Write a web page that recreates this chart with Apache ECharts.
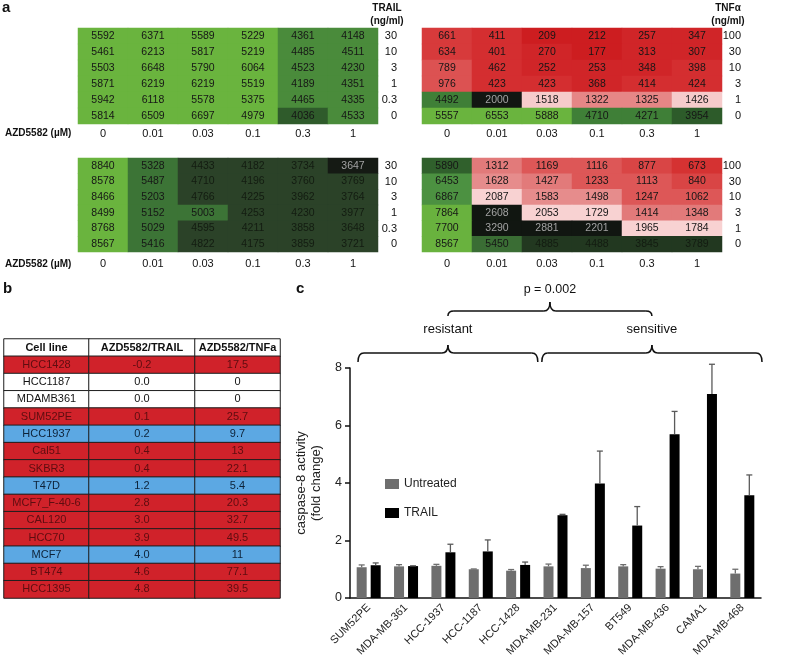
<!DOCTYPE html>
<html><head><meta charset="utf-8">
<script src="https://cdn.jsdelivr.net/npm/echarts@6/dist/echarts.min.js"></script>
<style>html,body{margin:0;padding:0;background:#fff}#c{width:798px;height:671px}</style>
</head><body><div id="c"></div>
<script>
const FONT = '"Liberation Sans", Arial, sans-serif';

// ---------- panel a data ----------
const azdDoses = ['0','0.01','0.03','0.1','0.3','1'];
const trailDoses = ['30','10','3','1','0.3','0'];
const tnfDoses = ['100','30','10','3','1','0'];
const trailExp1 = [
  [5592,6371,5589,5229,4361,4148],
  [5461,6213,5817,5219,4485,4511],
  [5503,6648,5790,6064,4523,4230],
  [5871,6219,6219,5519,4189,4351],
  [5942,6118,5578,5375,4465,4335],
  [5814,6509,6697,4979,4036,4533]
];
const tnfExp1 = [
  [661,411,209,212,257,347],
  [634,401,270,177,313,307],
  [789,462,252,253,348,398],
  [976,423,423,368,414,424],
  [4492,2000,1518,1322,1325,1426],
  [5557,6553,5888,4710,4271,3954]
];
const trailExp2 = [
  [8840,5328,4433,4182,3734,3647],
  [8578,5487,4710,4196,3760,3769],
  [8466,5203,4766,4225,3962,3764],
  [8499,5152,5003,4253,4230,3977],
  [8768,5029,4595,4211,3858,3648],
  [8567,5416,4822,4175,3859,3721]
];
const tnfExp2 = [
  [5890,1312,1169,1116,877,673],
  [6453,1628,1427,1233,1113,840],
  [6867,2087,1583,1498,1247,1062],
  [7864,2608,2053,1729,1414,1348],
  [7700,3290,2881,2201,1965,1784],
  [8567,5450,4885,4488,3845,3789]
];

// ---------- panel b data ----------
const tableHeader = ['Cell line','AZD5582/TRAIL','AZD5582/TNFa'];
const tableLines = ['HCC1428','HCC1187','MDAMB361','SUM52PE','HCC1937','Cal51','SKBR3','T47D','MCF7_F-40-6','CAL120','HCC70','MCF7','BT474','HCC1395'];
const tableTrail = ['-0.2','0.0','0.0','0.1','0.2','0.4','0.4','1.2','2.8','3.0','3.9','4.0','4.6','4.8'];
const tableTnf = ['17.5','0','0','25.7','9.7','13','22.1','5.4','20.3','32.7','49.5','11','77.1','39.5'];
const tableClass = ['r','w','w','r','b','r','r','b','r','r','r','b','r','r'];

// ---------- panel c data ----------
const cellLines = ['SUM52PE','MDA-MB-361','HCC-1937','HCC-1187','HCC-1428','MDA-MB-231','MDA-MB-157','BT549','MDA-MB-436','CAMA1','MDA-MB-468'];
const untreated = [1.07,1.10,1.12,1.00,0.95,1.10,1.04,1.10,1.02,1.00,0.85];
const untreatedErr = [0.08,0.06,0.05,0.01,0.04,0.08,0.10,0.06,0.07,0.10,0.15];
const trail = [1.14,1.11,1.59,1.62,1.15,2.88,3.98,2.52,5.70,7.10,3.57];
const trailErr = [0.08,0.01,0.28,0.40,0.10,0.03,1.13,0.66,0.79,1.03,0.71];

// ---------- styles ----------
const heatPieces = [
  [{lt:4100,color:'#2f5b2b'},{gte:4100,lt:4900,color:'#4a8b3b'},{gte:4900,color:'#6ab43e'}],
  [{lt:240,color:'#cd1d20'},{gte:240,lt:380,color:'#d02528'},{gte:380,lt:500,color:'#d42e30'},{gte:500,lt:700,color:'#d73a3b'},{gte:700,lt:1000,color:'#dc5252'},{gte:1000,lt:1400,color:'#e68686'},{gte:1400,lt:1700,color:'#f6cbcb'},{gte:1700,lt:3000,color:'#121612'},{gte:3000,lt:4000,color:'#2d5b2a'},{gte:4000,lt:5000,color:'#3f7f37'},{gte:5000,color:'#6ab43e'}],
  [{lt:3648,color:'#151a14'},{gte:3648,lt:4900,color:'#2b4228'},{gte:4900,lt:6000,color:'#3c7436'},{gte:6000,color:'#6ab43e'}],
  [{lt:750,color:'#d53232'},{gte:750,lt:1000,color:'#d94545'},{gte:1000,lt:1300,color:'#dd5757'},{gte:1300,lt:1450,color:'#e27a7a'},{gte:1450,lt:1700,color:'#e68c8c'},{gte:1700,lt:2150,color:'#f8d2d2'},{gte:2150,lt:3500,color:'#111611'},{gte:3500,lt:5000,color:'#223820'},{gte:5000,lt:5600,color:'#3a6d34'},{gte:5600,lt:6000,color:'#30602c'},{gte:6000,lt:7000,color:'#4c9141'},{gte:7000,color:'#69b23e'}]
];
const heatGrids = [
  {left:78, top:28, width:300, height:96},
  {left:422, top:28, width:300, height:96},
  {left:78, top:158, width:300, height:94},
  {left:422, top:158, width:300, height:94}
];
const tableGrids = [
  {left:4, top:339, width:85, height:259},
  {left:89, top:339, width:106, height:259},
  {left:195, top:339, width:85, height:259}
];
const barGrid = {left:350, top:368, width:411, height:230};
const classColor = {r:'#d0222a', w:'#ffffff', b:'#5ca8e3', h:'#ffffff'};
const classText = {r:'#5e0d10', w:'#111111', b:'#0d2238', h:'#111111'};

function pieceColor(pieces, v){
  for (const p of pieces){
    if ((p.lt===undefined || v < p.lt) && (p.gte===undefined || v >= p.gte)) return p.color;
  }
  return '#888';
}
function lum(hex){
  const r=parseInt(hex.substr(1,2),16), g=parseInt(hex.substr(3,2),16), b=parseInt(hex.substr(5,2),16);
  return (0.299*r+0.587*g+0.114*b)/255;
}
function labelColor(bg){
  const l = lum(bg);
  if (l < 0.12) return '#a2a2a2';
  if (l < 0.25) return '#131c11';
  return '#161616';
}

const matrices = [trailExp1, tnfExp1, trailExp2, tnfExp2];
const grids = [], xAxes = [], yAxes = [], series = [], visualMaps = [];

matrices.forEach((m, i) => {
  grids.push(heatGrids[i]);
  xAxes.push({gridIndex:i, type:'category', data:azdDoses, axisLine:{show:false}, axisTick:{show:false},
    axisLabel:{fontSize:11, color:'#111', fontFamily:FONT, margin: i<2?4:6}});
  yAxes.push({gridIndex:i, type:'category', data: i%2===0 ? trailDoses : tnfDoses, inverse:true, position:'right',
    axisLine:{show:false}, axisTick:{show:false},
    axisLabel:{fontSize:11, color:'#111', fontFamily:FONT, align:'right', margin:19}});
  const data = [];
  m.forEach((row, r) => row.forEach((v, c) => {
    data.push({value:[c, r, v], label:{color: labelColor(pieceColor(heatPieces[i], v))}});
  }));
  series.push({type:'heatmap', xAxisIndex:i, yAxisIndex:i, data,
    label:{show:true, fontSize:10.5, fontFamily:FONT}, emphasis:{disabled:true}, progressive:0});
  visualMaps.push({type:'piecewise', show:false, seriesIndex:i, dimension:2, pieces:heatPieces[i]});
});

// table
const tableCols = [
  [tableHeader[0]].concat(tableLines),
  [tableHeader[1]].concat(tableTrail),
  [tableHeader[2]].concat(tableTnf)
];
const rowClasses = ['h'].concat(tableClass);
const classIdx = {r:0, w:1, b:2, h:3};
const rowIdx = rowClasses.map((_, i) => String(i));
tableCols.forEach((col, k) => {
  const gi = 4 + k;
  grids.push(tableGrids[k]);
  xAxes.push({gridIndex:gi, type:'category', data:[''], show:false});
  yAxes.push({gridIndex:gi, type:'category', data:rowIdx, inverse:true, show:false});
  const data = col.map((txt, r) => ({
    name: txt,
    value:[0, r, classIdx[rowClasses[r]]],
    label:{color: classText[rowClasses[r]], fontWeight: r===0 ? 'bold' : 'normal'}
  }));
  series.push({type:'heatmap', xAxisIndex:gi, yAxisIndex:gi, data,
    itemStyle:{borderColor:'#1e1e1e', borderWidth:1},
    label:{show:true, fontSize:11, fontFamily:FONT, formatter: p => p.name},
    emphasis:{disabled:true}, progressive:0});
});
visualMaps.push({type:'piecewise', show:false, seriesIndex:[4,5,6], dimension:2,
  pieces:[{value:0,color:classColor.r},{value:1,color:classColor.w},{value:2,color:classColor.b},{value:3,color:classColor.h}]});

// bar chart
grids.push(barGrid);
xAxes.push({gridIndex:7, type:'category', data:cellLines, axisTick:{show:false},
  axisLine:{lineStyle:{color:'#111', width:1.5}},
  axisLabel:{rotate:45, fontSize:11, color:'#222', fontFamily:FONT, margin:8, interval:0}});
yAxes.push({gridIndex:7, type:'value', min:0, max:8, interval:2,
  axisLine:{show:true, lineStyle:{color:'#111', width:1.5}},
  axisTick:{show:true, length:5, lineStyle:{color:'#111', width:1.5}},
  splitLine:{show:false},
  axisLabel:{fontSize:12.5, color:'#222', fontFamily:FONT, margin:8},
  name:'caspase-8 activity\n(fold change)', nameLocation:'middle', nameGap:25,
  nameTextStyle:{fontSize:13, color:'#222', fontFamily:FONT, lineHeight:15}});
series.push({type:'bar', name:'Untreated', xAxisIndex:7, yAxisIndex:7, data:untreated, barWidth:10, barGap:'40%',
  itemStyle:{color:'#6e6e6e'}, emphasis:{disabled:true}});
series.push({type:'bar', name:'TRAIL', xAxisIndex:7, yAxisIndex:7, data:trail, barWidth:10, barGap:'40%',
  itemStyle:{color:'#000000'}, emphasis:{disabled:true}});
function errSeries(vals, errs, offset, color){
  return {type:'custom', xAxisIndex:7, yAxisIndex:7, z:3,
    data: vals.map((v,i) => [i, v, v + errs[i]]),
    renderItem: (params, api) => {
      const base = api.coord([api.value(0), api.value(1)]);
      const top = api.coord([api.value(0), api.value(2)]);
      const x = base[0] + offset;
      return {type:'group', children:[
        {type:'line', shape:{x1:x, y1:base[1], x2:x, y2:top[1]}, style:{stroke:color, lineWidth:1.3}},
        {type:'line', shape:{x1:x-3, y1:top[1], x2:x+3, y2:top[1]}, style:{stroke:color, lineWidth:1.3}}
      ]};
    }};
}
series.push(errSeries(untreated, untreatedErr, -7, '#6e6e6e'));
series.push(errSeries(trail, trailErr, 7, '#5a5a5a'));

function txt(x, y, text, font, align){
  return {type:'text', x, y, z:10, style:{text, font, fill:'#111', align: align||'left', verticalAlign:'middle',
    textAlign: align||'left', textVerticalAlign:'middle'}};
}
const staticGraphics = [
  txt(2, 8, 'a', 'bold 15px ' + FONT),
  txt(3, 289, 'b', 'bold 15px ' + FONT),
  txt(296, 289, 'c', 'bold 15px ' + FONT),
  txt(5, 133, 'AZD5582 (µM)', 'bold 10px ' + FONT),
  txt(5, 264, 'AZD5582 (µM)', 'bold 10px ' + FONT),
  txt(387, 8, 'TRAIL', 'bold 10px ' + FONT, 'center'),
  txt(387, 21, '(ng/ml)', 'bold 10px ' + FONT, 'center'),
  txt(728, 8, 'TNFα', 'bold 10px ' + FONT, 'center'),
  txt(728, 21, '(ng/ml)', 'bold 10px ' + FONT, 'center')
];

const chart = echarts.init(document.getElementById('c'), null, {renderer:'canvas'});
chart.setOption({
  animation:false,
  backgroundColor:'#fff',
  textStyle:{fontFamily:FONT},
  grid:grids, xAxis:xAxes, yAxis:yAxes, visualMap:visualMaps, series,
  legend:{data:['Untreated','TRAIL'], orient:'vertical', left:380, top:473, itemWidth:14, itemHeight:10, itemGap:17,
    icon:'rect', textStyle:{fontSize:12, color:'#222', fontFamily:FONT}},
  graphic: staticGraphics
});

// braces computed from the category axis
const c0 = chart.convertToPixel({xAxisIndex:7}, cellLines[0]);
const c1 = chart.convertToPixel({xAxisIndex:7}, cellLines[1]);
const bw = c1 - c0;
const edge = i => c0 + (i - 0.5) * bw;
const braceStyle = {stroke:'#111', lineWidth:1.5, fill:null};
function curve(x1, y1, cx, cy, x2, y2){
  return {type:'bezierCurve', z:10, shape:{x1, y1, x2, y2, cpx1:cx, cpy1:cy}, style:braceStyle};
}
function seg(x1, y1, x2, y2){
  return {type:'line', z:10, shape:{x1, y1, x2, y2}, style:braceStyle};
}
function brace(x1, x2, y, drop, rise){
  const xm = (x1 + x2) / 2;
  return [
    curve(x1, y+drop, x1, y, x1+6, y),
    seg(x1+6, y, xm-6, y),
    curve(xm-6, y, xm, y, xm, y-rise),
    curve(xm, y-rise, xm, y, xm+6, y),
    seg(xm+6, y, x2-6, y),
    curve(x2-6, y, x2, y, x2, y+drop)
  ];
}
const l1 = edge(0) + 8, l2 = edge(5) + 1, r1 = edge(5) + 5, r2 = edge(11) + 1;
const lm = (l1 + l2) / 2, rm = (r1 + r2) / 2, tm = (lm + rm) / 2;
chart.setOption({graphic: staticGraphics.concat(
  brace(l1, l2, 353, 9, 8),
  brace(r1, r2, 353, 9, 8),
  brace(lm, rm, 311, 5, 9),
  [
    txt(lm, 329, 'resistant', '13px ' + FONT, 'center'),
    txt(rm, 329, 'sensitive', '13px ' + FONT, 'center'),
    txt(tm, 290, 'p = 0.002', '12.5px ' + FONT, 'center')
  ]
)});
</script>
</body></html>
